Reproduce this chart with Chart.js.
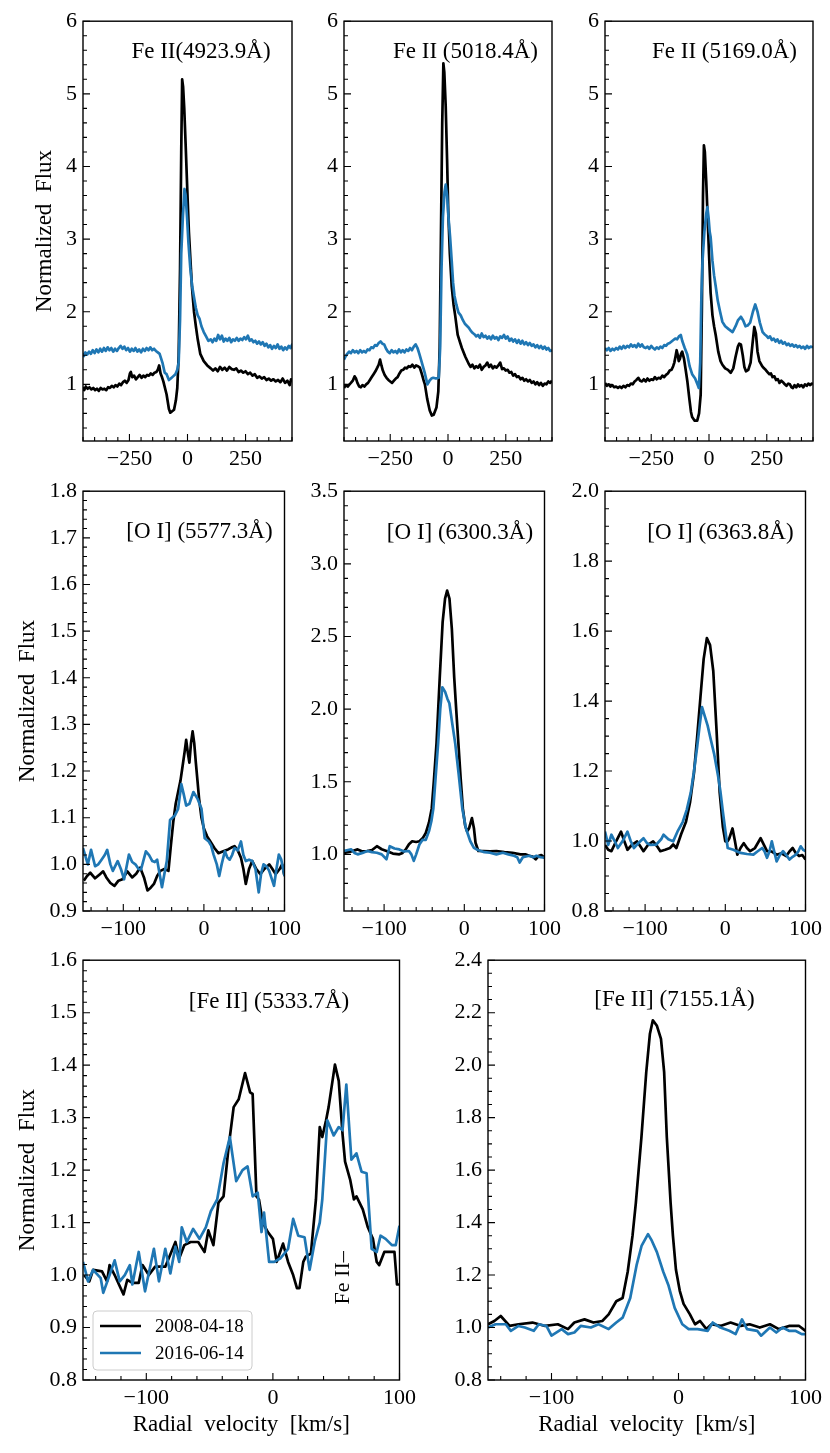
<!DOCTYPE html>
<html>
<head>
<meta charset="utf-8">
<script src="https://cdn.jsdelivr.net/npm/chart.js@4.4.0/dist/chart.umd.min.js"></script>
<style>
  body { margin: 0; background: #fff; width: 830px; height: 1453px; position: relative; overflow: hidden; }
  canvas { position: absolute; }
</style>
</head>
<body>
<script>
// ---- data (velocity km/s, normalized flux) ----
const dateLabels = ['2008-04-18', '2016-06-14'];

const fe4923_v08 = [-452,-445,-438,-430,-422,-414,-406,-398,-390,-382,-374,-366,-358,-350,-342,-334,-326,-318,-310,-302,-294,-286,-278,-270,-262,-254,-248,-244,-238,-230,-222,-214,-206,-198,-190,-182,-174,-166,-158,-150,-142,-134,-128,-122,-116,-110,-104,-90,-80,-74,-66,-58,-50,-44,-38,-32,-27,-23,-19,-14,-8,0,6,12,19,28,36,44,55,70,85,100,110,120,130,140,150,160,170,180,190,200,210,220,230,240,250,260,270,280,290,300,310,320,330,340,350,360,370,380,390,400,410,420,430,440,446,452];
const fe4923_f08 = [0.96,0.92,0.97,0.94,0.96,0.93,0.95,0.92,0.94,0.91,0.95,0.93,0.94,0.92,0.96,0.95,0.98,0.96,0.99,0.97,1.01,0.99,1.03,1.05,1.02,1.06,1.15,1.17,1.1,1.12,1.07,1.1,1.13,1.09,1.12,1.1,1.13,1.12,1.15,1.13,1.16,1.17,1.2,1.26,1.15,1.1,1.04,0.86,0.66,0.61,0.63,0.65,0.78,0.95,1.4,2.6,4.2,5.2,5.1,4.8,4.3,3.6,3.1,2.75,2.35,2.0,1.8,1.62,1.42,1.32,1.26,1.22,1.19,1.22,1.18,1.24,1.2,1.23,1.19,1.24,1.21,1.2,1.22,1.17,1.19,1.16,1.18,1.14,1.16,1.12,1.14,1.09,1.11,1.08,1.1,1.06,1.08,1.05,1.07,1.04,1.06,1.03,1.08,1.02,1.05,0.99,1.07,1.04];
const fe4923_v16 = [-452,-446,-440,-432,-424,-416,-408,-400,-392,-384,-376,-368,-360,-352,-344,-336,-328,-320,-312,-304,-296,-288,-280,-272,-264,-256,-248,-240,-232,-224,-216,-208,-200,-192,-184,-176,-168,-160,-152,-144,-136,-128,-120,-108,-98,-90,-80,-72,-62,-52,-44,-38,-32,-27,-20,-13,-8,-2,4,12,20,28,36,44,52,60,70,80,90,100,108,116,124,132,140,148,156,164,172,180,188,196,204,212,220,228,236,244,252,260,268,276,284,292,300,308,316,324,332,340,348,356,364,372,380,388,396,404,412,420,428,436,444,452];
const fe4923_f16 = [1.43,1.39,1.44,1.41,1.45,1.42,1.47,1.43,1.48,1.44,1.49,1.45,1.5,1.46,1.51,1.47,1.5,1.45,1.49,1.46,1.5,1.53,1.49,1.52,1.47,1.5,1.45,1.49,1.46,1.5,1.45,1.48,1.44,1.49,1.46,1.5,1.47,1.51,1.47,1.49,1.46,1.44,1.42,1.3,1.16,1.14,1.06,1.08,1.11,1.14,1.2,1.3,1.9,2.8,3.3,3.69,3.6,3.3,2.95,2.6,2.35,2.2,2.05,1.95,1.9,1.8,1.72,1.66,1.6,1.62,1.58,1.63,1.6,1.68,1.62,1.67,1.59,1.63,1.6,1.64,1.58,1.62,1.6,1.64,1.6,1.63,1.61,1.65,1.62,1.67,1.6,1.62,1.58,1.6,1.56,1.59,1.55,1.58,1.53,1.56,1.51,1.54,1.49,1.53,1.5,1.55,1.49,1.52,1.47,1.51,1.48,1.53,1.5,1.56];

const fe5018_v08 = [-450,-442,-434,-426,-420,-412,-404,-398,-392,-384,-377,-370,-362,-354,-346,-338,-330,-322,-314,-306,-300,-294,-288,-282,-274,-266,-258,-250,-242,-234,-226,-218,-210,-202,-194,-186,-178,-170,-162,-154,-146,-138,-130,-122,-114,-106,-100,-90,-79,-70,-62,-50,-42,-36,-30,-25,-20,-16,-10,-4,1,8,16,24,31,42,52,60,75,90,98,106,114,122,130,138,146,154,162,170,178,186,194,202,210,218,226,234,242,250,258,266,274,282,290,298,306,314,322,330,338,346,354,362,370,378,386,394,402,410,418,426,434,442,450];
const fe5018_f08 = [0.95,0.99,0.97,1.0,1.02,1.05,1.11,1.08,1.02,0.97,0.96,0.99,0.97,1.0,1.02,1.06,1.1,1.14,1.18,1.23,1.27,1.34,1.26,1.19,1.13,1.09,1.06,1.04,1.02,1.05,1.08,1.1,1.15,1.19,1.2,1.23,1.22,1.25,1.24,1.27,1.23,1.26,1.25,1.23,1.15,1.06,1.0,0.8,0.64,0.57,0.58,0.68,0.9,1.5,3.2,4.6,5.42,5.3,4.84,4.1,3.39,2.8,2.35,2.1,1.95,1.68,1.58,1.5,1.38,1.28,1.24,1.27,1.22,1.25,1.23,1.27,1.2,1.24,1.26,1.3,1.24,1.27,1.22,1.25,1.23,1.26,1.3,1.21,1.22,1.19,1.2,1.16,1.17,1.12,1.14,1.1,1.11,1.07,1.09,1.05,1.07,1.04,1.06,1.02,1.04,1.0,1.03,0.99,1.02,0.98,1.01,1.0,1.04,1.02,1.05];
const fe5018_v16 = [-450,-444,-436,-428,-420,-412,-404,-396,-388,-380,-372,-364,-356,-348,-340,-332,-324,-316,-308,-300,-292,-284,-276,-268,-260,-252,-244,-236,-228,-220,-212,-204,-196,-188,-180,-172,-164,-156,-148,-140,-132,-124,-115,-100,-89,-80,-72,-64,-52,-40,-34,-28,-22,-15,-10,-4,2,9,16,22,28,36,45,55,65,74,90,98,106,114,122,130,138,146,154,162,170,178,186,194,202,210,218,226,234,242,250,258,266,274,282,290,298,306,314,322,330,338,346,354,362,370,378,386,394,402,410,418,426,434,442,450];
const fe5018_f16 = [1.34,1.38,1.42,1.45,1.43,1.47,1.44,1.46,1.43,1.47,1.44,1.46,1.44,1.48,1.47,1.51,1.5,1.54,1.53,1.57,1.59,1.56,1.55,1.49,1.45,1.43,1.47,1.44,1.46,1.43,1.48,1.44,1.47,1.44,1.48,1.46,1.5,1.47,1.52,1.55,1.5,1.42,1.32,1.15,1.0,1.05,1.08,1.09,1.08,1.09,1.5,2.6,3.3,3.65,3.75,3.6,3.3,3.03,2.7,2.4,2.22,2.1,1.99,1.95,1.88,1.83,1.78,1.74,1.71,1.69,1.66,1.68,1.64,1.7,1.65,1.67,1.63,1.66,1.62,1.67,1.63,1.65,1.61,1.66,1.64,1.68,1.63,1.66,1.6,1.63,1.59,1.62,1.57,1.61,1.56,1.6,1.55,1.58,1.54,1.57,1.53,1.55,1.51,1.54,1.5,1.53,1.49,1.52,1.48,1.5,1.46,1.47];

const fe5169_v08 = [-450,-442,-434,-426,-418,-410,-402,-394,-386,-378,-370,-362,-354,-346,-338,-330,-322,-314,-306,-298,-290,-282,-274,-266,-258,-250,-242,-234,-226,-218,-210,-202,-194,-186,-178,-170,-162,-155,-150,-145,-140,-135,-131,-126,-121,-116,-108,-100,-94,-85,-78,-73,-62,-51,-43,-36,-31,-26,-22,-18,-12,-7,0,7,15,22,29,40,50,58,70,82,94,105,115,125,131,138,146,153,160,170,180,188,196,203,210,218,230,238,245,253,261,268,275,283,290,298,305,313,320,328,335,343,350,357,363,370,378,385,392,400,408,415,423,430,438,445,450];
const fe5169_f08 = [1.02,0.98,1.0,0.97,0.99,0.96,0.97,0.95,0.97,0.95,0.98,0.96,0.99,0.98,1.01,1.0,1.04,1.06,1.09,1.05,1.04,1.07,1.04,1.08,1.05,1.07,1.06,1.1,1.07,1.09,1.08,1.12,1.1,1.13,1.15,1.19,1.2,1.25,1.3,1.38,1.47,1.4,1.32,1.35,1.42,1.45,1.35,1.18,1.05,0.8,0.62,0.55,0.5,0.5,0.6,0.86,2.0,3.6,4.29,4.2,3.8,3.39,2.8,2.26,1.95,1.8,1.68,1.45,1.32,1.27,1.22,1.2,1.16,1.22,1.38,1.52,1.56,1.55,1.4,1.24,1.18,1.2,1.3,1.55,1.79,1.7,1.45,1.32,1.25,1.22,1.2,1.17,1.14,1.15,1.1,1.11,1.06,1.07,1.02,1.05,1.03,1.0,0.98,1.01,1.0,0.96,0.95,0.99,0.96,1.0,0.97,0.99,0.96,1.0,0.98,1.01,0.99,1.01,1.0];
const fe5169_v16 = [-450,-442,-434,-426,-418,-410,-402,-394,-386,-378,-370,-362,-354,-346,-338,-330,-322,-314,-306,-298,-290,-282,-274,-266,-258,-250,-242,-234,-226,-218,-210,-202,-194,-186,-178,-170,-162,-154,-146,-138,-130,-122,-116,-105,-94,-84,-73,-60,-50,-44,-38,-33,-28,-20,-12,-7,-2,3,7,15,22,29,38,48,58,70,85,102,115,125,138,148,158,167,178,190,200,210,220,232,240,248,256,264,272,280,288,296,304,312,320,328,336,344,352,360,368,376,384,392,400,408,416,424,432,440,450];
const fe5169_f16 = [1.5,1.47,1.5,1.46,1.49,1.47,1.5,1.48,1.52,1.49,1.53,1.5,1.53,1.51,1.55,1.52,1.54,1.51,1.56,1.52,1.55,1.51,1.5,1.52,1.49,1.53,1.5,1.48,1.51,1.49,1.52,1.5,1.54,1.53,1.56,1.57,1.59,1.61,1.63,1.62,1.66,1.68,1.6,1.5,1.41,1.25,1.14,1.08,1.0,0.95,1.3,2.2,2.7,3.1,3.35,3.44,3.3,3.1,3.03,2.7,2.5,2.35,2.15,2.0,1.86,1.8,1.76,1.72,1.8,1.88,1.93,1.88,1.8,1.81,1.85,2.0,2.1,2.0,1.85,1.72,1.69,1.67,1.64,1.66,1.61,1.63,1.59,1.62,1.57,1.6,1.56,1.58,1.54,1.56,1.53,1.55,1.52,1.54,1.51,1.53,1.5,1.52,1.49,1.53,1.5,1.52,1.51];

const o5577_v08 = [-149,-145,-141,-135,-129,-125,-121,-116,-111,-106,-101,-95,-89,-84,-79,-74,-70,-66,-62,-58,-54,-49,-44,-41,-38,-35,-32,-29,-27,-24,-22,-20,-18,-16,-14,-12,-10,-8,-6,-3,0,4,8,13,18,24,30,34,38,42,46,49,52,56,60,65,70,75,81,85,89,94,97,100];
const o5577_f08 = [0.965,0.975,0.982,0.97,0.979,0.985,0.972,0.96,0.954,0.965,0.968,0.985,0.972,0.98,0.993,0.97,0.944,0.95,0.958,0.975,0.986,0.99,0.986,1.04,1.091,1.13,1.155,1.18,1.204,1.24,1.267,1.24,1.218,1.26,1.285,1.26,1.218,1.18,1.141,1.1,1.077,1.06,1.049,1.035,1.024,1.028,1.032,1.036,1.039,1.03,1.014,0.99,0.958,0.99,1.007,0.99,0.979,0.99,1.0,0.99,0.979,0.99,1.0,0.975];
const o5577_v16 = [-150,-144,-140,-135,-131,-127,-123,-120,-116,-113,-107,-103,-99,-93,-89,-85,-81,-78,-72,-68,-64,-61,-58,-55,-52,-49,-46,-42,-39,-36,-32,-28,-25,-22,-18,-13,-8,-3,1,6,9,12,16,19,22,26,29,32,35,38,42,46,49,52,56,60,64,68,71,74,78,81,84,87,90,93,96,100];
const o5577_f16 = [1.035,1.0,1.031,0.996,1.0,1.01,1.02,1.031,1.0,0.986,1.007,0.99,0.968,1.021,1.005,1.0,0.99,0.989,1.028,1.02,1.007,1.005,1.01,0.98,0.951,0.98,1.007,1.095,1.1,1.105,1.119,1.172,1.15,1.126,1.13,1.155,1.141,1.119,1.056,1.049,1.04,1.021,1.0,0.975,1.0,1.028,1.015,1.01,1.02,1.035,1.03,1.049,1.02,1.007,1.01,1.007,0.99,0.94,0.98,1.0,0.995,0.986,0.97,0.954,0.99,1.021,1.01,0.975];

const o6300_v08 = [-150,-141,-133,-127,-121,-115,-109,-103,-97,-89,-81,-77,-73,-69,-65,-60,-56,-52,-48,-44,-40.6,-38,-34.6,-30.6,-27,-24,-21.4,-18.5,-15.5,-12.6,-10,-7.4,-4.5,-1.8,1,3.5,6,9.5,12,14,17.5,24,32,40,50,60,70,76,81,85,89,93,96,100];
const o6300_f08 = [1.01,1.02,1.034,1.02,1.023,1.03,1.056,1.035,1.023,1.005,1.0,1.01,1.034,1.07,1.09,1.085,1.09,1.11,1.147,1.22,1.316,1.5,1.767,2.219,2.6,2.76,2.816,2.76,2.55,2.219,1.99,1.767,1.52,1.316,1.2,1.158,1.18,1.25,1.18,1.08,1.023,1.023,1.02,1.023,1.015,1.011,1.0,1.0,0.99,0.985,0.966,0.99,0.995,0.977];
const o6300_v16 = [-150,-145,-141,-137,-133,-127,-121,-115,-109,-103,-97,-93,-87,-81,-75,-69,-66,-63,-60,-56,-52,-48,-44,-41,-38.6,-35.5,-32.6,-30,-27.4,-24,-21,-18.6,-15,-11.4,-7,-2.5,2,7.5,12,17,25,32,40,48,55,62,66,69,73,77,81,86,90,95,100];
const o6300_f16 = [1.023,1.03,1.034,1.01,1.0,1.01,1.023,1.015,1.011,1.0,0.966,1.056,1.04,1.034,1.02,1.023,1.0,0.955,1.0,1.068,1.1,1.1,1.16,1.23,1.316,1.55,1.767,2.0,2.15,2.12,2.07,2.04,1.9,1.767,1.55,1.316,1.18,1.09,1.045,1.03,1.015,1.011,1.0,1.011,1.0,0.99,0.98,0.944,0.98,0.985,0.99,0.98,0.99,0.98,0.977];

const o6363_v08 = [-150,-146,-142,-136,-130,-126,-122,-116,-110,-106,-102,-96,-90,-85,-81,-75,-69,-65,-61,-55,-49,-44,-39,-35,-31,-27,-23,-19,-15,-11,-7,-3,0,3,5,9,12,15,19,23,27,31,37,44,48,52,58,64,70,76,80,84,88,92,96,100];
const o6363_f08 = [0.989,0.975,0.971,1.0,1.027,1.0,0.975,0.99,0.999,0.985,0.971,0.99,0.999,0.985,0.971,0.975,0.98,0.99,0.98,1.02,1.055,1.11,1.196,1.3,1.411,1.52,1.58,1.56,1.486,1.32,1.139,1.04,0.999,1.0,1.008,1.036,1.0,0.961,0.98,0.994,0.98,0.971,0.98,1.008,0.99,0.971,0.97,0.961,0.965,0.957,0.97,0.98,0.965,0.957,0.96,0.947];
const o6363_v16 = [-150,-146,-142,-138,-134,-128,-122,-118,-114,-108,-102,-98,-94,-86,-80,-77,-71,-65,-59,-53,-48,-43,-39,-35,-32,-29,-26,-22,-19,-14,-9,-6,-3,0,3,10,19,27,35,40,46,49,52,55,58,61,64,68,72,76,80,84,88,91,94,97,100];
const o6363_f16 = [1.027,0.989,1.018,1.0,0.98,1.0,1.027,1.0,0.98,0.995,1.008,0.995,0.989,0.99,1.005,1.018,1.005,0.999,1.03,1.055,1.09,1.139,1.2,1.271,1.33,1.383,1.36,1.33,1.299,1.25,1.186,1.14,1.083,1.03,0.98,0.975,0.966,0.963,0.961,0.97,0.98,0.97,0.952,0.97,0.999,0.97,0.942,0.96,0.971,0.96,0.947,0.955,0.961,0.97,0.985,0.975,0.971];

const fe5333_v08 = [-149,-145,-142,-135,-131,-129,-125,-118,-115,-111,-106,-103,-98,-93,-85,-77,-74,-70,-65,-59,-54,-51,-47,-43,-39,-35,-31,-27,-22,-18,-16,-13,-11,-8,-4,0,3,8,12,16,19,21,24,26,30,34,37,39,42,44,49,52,55,57,61,64,66,71,75,79,82,84,88,93,96,98,100];
const fe5333_f08 = [1.0,0.988,1.01,1.007,0.988,1.019,1.0,0.963,0.991,0.985,0.985,1.019,1.0,1.016,1.016,1.063,1.032,1.057,1.063,1.063,1.044,1.085,1.057,1.138,1.15,1.244,1.32,1.335,1.385,1.348,1.345,1.15,1.144,1.1,1.082,1.069,1.025,1.06,1.025,1.0,0.975,0.975,1.025,1.035,1.041,1.144,1.282,1.263,1.295,1.32,1.401,1.37,1.269,1.216,1.182,1.144,1.15,1.125,1.091,1.069,1.025,1.019,1.044,1.044,1.044,0.982,0.982];
const fe5333_v16 = [-150,-146,-142,-136,-134,-129,-125,-121,-117,-113,-111,-106,-101,-94,-90,-85,-81,-77,-74,-72,-68,-63,-58,-53,-49,-44,-39,-34,-29,-24,-20,-16,-12,-9,-7,-3,1,6,12,16,20,25,29,33,37,39,43,48,52,55,58,62,66,70,74,78,82,85,89,94,97,100];
const fe5333_f16 = [1.025,0.988,1.01,0.994,0.966,1.0,1.028,0.988,1.0,1.019,0.982,1.044,0.969,1.05,0.988,1.05,1.003,1.054,1.025,1.091,1.063,1.088,1.069,1.091,1.122,1.144,1.213,1.263,1.179,1.2,1.207,1.15,1.157,1.082,1.119,1.025,1.025,1.032,1.05,1.107,1.075,1.072,1.01,1.063,1.1,1.144,1.295,1.266,1.282,1.276,1.363,1.22,1.232,1.197,1.194,1.05,1.044,1.075,1.069,1.057,1.057,1.094];

const fe7155_v08 = [-150,-145,-140,-133,-126,-115,-105,-95,-87,-82,-74,-67,-60,-55,-49,-44,-40,-36.2,-33.6,-29.2,-25.4,-22.5,-20.2,-17,-13.8,-11.3,-9.2,-6.2,-4.4,-2,1,4,9,13,17,22,26,33,41,49,56,64,72,79,87,95,100];
const fe7155_f08 = [1.0125,1.025,1.044,1.006,1.0125,1.019,1.006,1.0125,0.994,1.019,1.031,1.019,1.025,1.05,1.1,1.1125,1.2125,1.35,1.474,1.725,1.973,2.12,2.171,2.15,2.1,1.973,1.725,1.474,1.35,1.22,1.14,1.09,1.05,1.0125,1.025,0.994,1.0125,1.006,1.019,1.006,1.0125,1.0,1.0125,0.994,1.006,1.006,0.9875];
const fe7155_v16 = [-150,-144,-136,-132,-126,-121,-114,-110,-104,-100,-92,-87,-82,-77,-69,-63,-55,-49,-44,-38,-33,-29,-24,-21,-17,-12,-8,-3,3,8,15,23,27,33,40,45,50,54,62,65,72,77,82,87,92,97,100];
const fe7155_f16 = [1.0,1.0125,1.0125,0.9875,1.006,1.0,0.9875,1.0125,1.006,0.969,0.994,0.975,0.981,1.006,1.0,1.0125,0.994,1.019,1.0375,1.1125,1.2375,1.3125,1.356,1.331,1.2875,1.2125,1.1625,1.075,1.0125,0.994,0.994,0.9875,1.019,1.0,0.9875,0.975,1.031,0.994,0.9875,0.969,1.0,0.981,1.0,0.9875,0.9875,0.975,0.975];

// tick labels
const wideXTicks = [-250, 0, 250];
const narrowXTicks = [-100, 0, 100];
const feIIYTicks = [1, 2, 3, 4, 5, 6];
const o5577YTicks = [0.9, 1.0, 1.1, 1.2, 1.3, 1.4, 1.5, 1.6, 1.7, 1.8];
const o6300YTicks = [1.0, 1.5, 2.0, 2.5, 3.0, 3.5];
const o6363YTicks = [0.8, 1.0, 1.2, 1.4, 1.6, 1.8, 2.0];
const fe5333YTicks = [0.8, 0.9, 1.0, 1.1, 1.2, 1.3, 1.4, 1.5, 1.6];
const fe7155YTicks = [0.8, 1.0, 1.2, 1.4, 1.6, 1.8, 2.0, 2.2, 2.4];

// ---- drawing ----
const SERIF = 'Liberation Serif';
const ML = 82, MR = 14, MT = 12, MB = 70;
const COLORS = ['#000000', '#1f77b4'];

function pts(v, f) { return v.map((x, i) => ({ x: x, y: f[i] })); }
function fmt(v, dec) { return v.toFixed(dec).replace('-', '\u2212'); }

const decoPlugin = {
  id: 'deco',
  afterDatasetsDraw(chart, args, o) {
    const ctx = chart.ctx, a = chart.chartArea;
    const xs = chart.scales.x, ys = chart.scales.y;
    ctx.save();
    ctx.strokeStyle = '#000';
    ctx.lineWidth = 1.1;
    ctx.beginPath();
    xs.ticks.forEach(t => {
      const p = xs.getPixelForValue(t.value);
      ctx.moveTo(p, a.bottom); ctx.lineTo(p, a.bottom - 7);
    });
    ys.ticks.forEach(t => {
      const p = ys.getPixelForValue(t.value);
      ctx.moveTo(a.left, p); ctx.lineTo(a.left + 7, p);
    });
    for (let n = Math.ceil(xs.min / o.xMinor - 1e-6); n * o.xMinor <= xs.max + 1e-6; n++) {
      const p = xs.getPixelForValue(n * o.xMinor);
      ctx.moveTo(p, a.bottom); ctx.lineTo(p, a.bottom - 4);
    }
    for (let n = Math.ceil(ys.min / o.yMinor - 1e-6); n * o.yMinor <= ys.max + 1e-6; n++) {
      const p = ys.getPixelForValue(n * o.yMinor);
      ctx.moveTo(a.left, p); ctx.lineTo(a.left + 4, p);
    }
    ctx.stroke();
    ctx.lineWidth = 1.4;
    ctx.strokeRect(a.left, a.top, a.right - a.left, a.bottom - a.top);

    ctx.fillStyle = '#000';
    ctx.textBaseline = 'middle';
    ctx.textAlign = 'center';
    ctx.font = '23px "' + SERIF + '"';
    ctx.fillText(o.title, a.left + o.titleCx, a.top + o.titleDy);

    if (o.ylabelDx !== null) {
      ctx.save();
      ctx.translate(a.left + o.ylabelDx, (a.top + a.bottom) / 2);
      ctx.rotate(-Math.PI / 2);
      ctx.fillText('Normalized  Flux', 0, 0);
      ctx.restore();
    }
    if (o.xlabel) {
      ctx.fillText('Radial  velocity  [km/s]', (a.left + a.right) / 2, a.bottom + 45);
    }
    if (o.note) {
      ctx.save();
      ctx.translate(xs.getPixelForValue(60.5), ys.getPixelForValue(0.944));
      ctx.rotate(-Math.PI / 2);
      ctx.textAlign = 'left';
      ctx.textBaseline = 'alphabetic';
      ctx.font = '22px "' + SERIF + '"';
      ctx.fillText('Fe II\u2013', 0, 0);
      ctx.restore();
    }
    if (o.legend) {
      const bx = a.left + 10, by = a.bottom - 69, bw = 159, bh = 59;
      ctx.beginPath();
      ctx.roundRect(bx, by, bw, bh, 4);
      ctx.fillStyle = 'rgba(255,255,255,0.8)';
      ctx.fill();
      ctx.strokeStyle = '#cccccc';
      ctx.lineWidth = 1;
      ctx.stroke();
      ctx.font = '19px "' + SERIF + '"';
      ctx.textAlign = 'left';
      chart.data.datasets.forEach((ds, i) => {
        const yy = by + 15 + i * 27;
        ctx.strokeStyle = ds.borderColor;
        ctx.lineWidth = 2.7;
        ctx.beginPath();
        ctx.moveTo(bx + 7, yy); ctx.lineTo(bx + 48, yy);
        ctx.stroke();
        ctx.fillStyle = '#000';
        ctx.fillText(ds.label, bx + 62, yy + 1);
      });
    }
    ctx.restore();
  }
};

function makePanel(box, c) {
  const cv = document.createElement('canvas');
  const w = (box[2] - box[0]) + ML + MR;
  const h = (box[3] - box[1]) + MT + MB;
  cv.width = w; cv.height = h;
  cv.style.left = (box[0] - ML) + 'px';
  cv.style.top = (box[1] - MT) + 'px';
  cv.style.width = w + 'px'; cv.style.height = h + 'px';
  document.body.appendChild(cv);

  new Chart(cv, {
    type: 'line',
    data: {
      datasets: c.series.map((s, i) => ({
        label: dateLabels[i],
        data: pts(s[0], s[1]),
        borderColor: COLORS[i],
        borderWidth: 2.7,
        pointRadius: 0,
        tension: 0,
        fill: false,
        borderJoinStyle: 'round',
        order: 2 - i
      }))
    },
    options: {
      responsive: false,
      animation: false,
      devicePixelRatio: 1,
      layout: { padding: { left: 0, right: MR, top: MT, bottom: 0 } },
      plugins: {
        legend: { display: false },
        tooltip: { enabled: false },
        deco: c.deco
      },
      scales: {
        x: {
          type: 'linear', min: c.xMin, max: c.xMax,
          grid: { display: false, drawTicks: false },
          border: { display: false },
          afterBuildTicks: ax => { ax.ticks = c.xTicks.map(v => ({ value: v })); },
          afterFit: ax => { ax.height = MB; },
          ticks: {
            padding: 5, maxRotation: 0, autoSkip: false, color: '#000',
            font: { family: SERIF, size: 22 },
            callback: v => fmt(v, 0)
          }
        },
        y: {
          type: 'linear', min: c.yMin, max: c.yMax,
          grid: { display: false, drawTicks: false },
          border: { display: false },
          afterBuildTicks: ax => { ax.ticks = c.yTicks.map(v => ({ value: v })); },
          afterFit: ax => { ax.width = ML; },
          ticks: {
            padding: 6, autoSkip: false, color: '#000',
            font: { family: SERIF, size: 22 },
            callback: v => fmt(v, c.yDec)
          }
        }
      }
    },
    plugins: [decoPlugin]
  });
}

const topRow = { xMin: -450, xMax: 450, xTicks: wideXTicks, yMin: 0.22, yMax: 6, yTicks: feIIYTicks, yDec: 0 };
const midRow = { xMin: -150, xMax: 100, xTicks: narrowXTicks, yDec: 1 };

makePanel([83, 14, 292, 441], Object.assign({}, topRow, {
  series: [[fe4923_v08, fe4923_f08], [fe4923_v16, fe4923_f16]],
  deco: { xMinor: 50, yMinor: 0.2, title: 'Fe II(4923.9\u00c5)', titleCx: 118, titleDy: 31, ylabelDx: -38 }
}));
makePanel([344, 14, 552, 441], Object.assign({}, topRow, {
  series: [[fe5018_v08, fe5018_f08], [fe5018_v16, fe5018_f16]],
  deco: { xMinor: 50, yMinor: 0.2, title: 'Fe II (5018.4\u00c5)', titleCx: 121.5, titleDy: 31, ylabelDx: null }
}));
makePanel([605, 14, 813, 441], Object.assign({}, topRow, {
  series: [[fe5169_v08, fe5169_f08], [fe5169_v16, fe5169_f16]],
  deco: { xMinor: 50, yMinor: 0.2, title: 'Fe II (5169.0\u00c5)', titleCx: 119.5, titleDy: 31, ylabelDx: null }
}));

makePanel([83, 484, 292, 911], Object.assign({}, midRow, {
  yMin: 0.9, yMax: 1.8, yTicks: o5577YTicks,
  series: [[o5577_v08, o5577_f08], [o5577_v16, o5577_f16]],
  deco: { xMinor: 20, yMinor: 0.02, title: '[O I] (5577.3\u00c5)', titleCx: 116.5, titleDy: 41, ylabelDx: -55 }
}));
makePanel([344, 484, 552, 911], Object.assign({}, midRow, {
  yMin: 0.61, yMax: 3.5, yTicks: o6300YTicks,
  series: [[o6300_v08, o6300_f08], [o6300_v16, o6300_f16]],
  deco: { xMinor: 20, yMinor: 0.1, title: '[O I] (6300.3\u00c5)', titleCx: 116, titleDy: 42, ylabelDx: null }
}));
makePanel([605, 484, 813, 911], Object.assign({}, midRow, {
  yMin: 0.8, yMax: 2.0, yTicks: o6363YTicks,
  series: [[o6363_v08, o6363_f08], [o6363_v16, o6363_f16]],
  deco: { xMinor: 20, yMinor: 0.05, title: '[O I] (6363.8\u00c5)', titleCx: 115.5, titleDy: 42, ylabelDx: null }
}));

makePanel([83, 953, 407, 1380], Object.assign({}, midRow, {
  yMin: 0.8, yMax: 1.6, yTicks: fe5333YTicks,
  series: [[fe5333_v08, fe5333_f08], [fe5333_v16, fe5333_f16]],
  deco: { xMinor: 20, yMinor: 0.02, title: '[Fe II] (5333.7\u00c5)', titleCx: 186, titleDy: 42, ylabelDx: -55, xlabel: true, legend: true, note: true }
}));
makePanel([488, 953, 813, 1380], Object.assign({}, midRow, {
  yMin: 0.8, yMax: 2.4, yTicks: fe7155YTicks,
  series: [[fe7155_v08, fe7155_f08], [fe7155_v16, fe7155_f16]],
  deco: { xMinor: 20, yMinor: 0.05, title: '[Fe II] (7155.1\u00c5)', titleCx: 186.5, titleDy: 40, ylabelDx: null, xlabel: true }
}));
</script>
</body>
</html>
